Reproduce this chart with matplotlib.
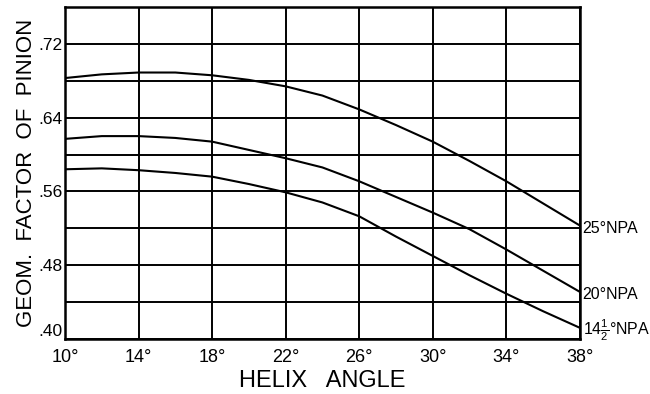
import matplotlib.pyplot as plt

helix = [10, 12, 14, 16, 18, 20, 22, 24, 26, 28, 30, 32, 34, 36, 38]
npa25 = [0.683, 0.687, 0.689, 0.689, 0.686, 0.681, 0.674, 0.664, 0.649, 0.632, 0.614, 0.593, 0.571, 0.547, 0.523]
npa20 = [0.617, 0.620, 0.620, 0.618, 0.614, 0.605, 0.596, 0.586, 0.571, 0.554, 0.537, 0.519, 0.497, 0.474, 0.451]
npa14 = [0.584, 0.585, 0.583, 0.580, 0.576, 0.568, 0.559, 0.548, 0.533, 0.511, 0.490, 0.469, 0.449, 0.430, 0.412]
curve_labels = ["25°NPA", "20°NPA", "14$\\mathregular{\\frac{1}{2}}$°NPA"]

xticks = [10, 14, 18, 22, 26, 30, 34, 38]
xticklabels = ["10°", "14°", "18°", "22°", "26°", "30°", "34°", "38°"]
ygrid = [0.40, 0.44, 0.48, 0.52, 0.56, 0.60, 0.64, 0.68, 0.72, 0.76]
yticklabels = [".40", "", ".48", "", ".56", "", ".64", "", ".72", ""]

plt.rcParams['font.family'] = ['Liberation Sans', 'DejaVu Sans']
plt.rcParams['mathtext.fontset'] = 'custom'
plt.rcParams['mathtext.rm'] = 'Liberation Sans'

fig = plt.figure(figsize=(6.5, 3.94), dpi=100)
ax = fig.add_axes([0.1, 0.14, 0.792, 0.842])

for ys in (npa25, npa20, npa14):
    ax.plot(helix, ys, color='black', lw=1.5, zorder=3)

ax.set_xlim(10, 38)
ax.set_ylim(0.40, 0.76)
ax.set_xticks(xticks)
ax.set_xticklabels(xticklabels, fontsize=13)
ax.set_yticks(ygrid)
ax.set_yticklabels(yticklabels, fontsize=12.5)
for lab in ax.get_yticklabels()[:1]:
    lab.set_verticalalignment('bottom')
ax.grid(True, color='black', lw=1.4)
ax.tick_params(axis='x', length=0, pad=7)
ax.tick_params(axis='y', length=0, pad=2)
for s in ax.spines.values():
    s.set_linewidth(1.8)

for ys, lab in zip((npa25, npa20, npa14), curve_labels):
    ax.annotate(lab, xy=(38, ys[-1]), xytext=(2, -2), textcoords='offset points',
                ha='left', va='center', fontsize=11.5, annotation_clip=False)

ax.set_xlabel("HELIX   ANGLE", fontsize=17, labelpad=3)
ax.set_ylabel("GEOM.  FACTOR  OF  PINION", fontsize=16, labelpad=1)

fig.savefig('out.png', dpi=100)
